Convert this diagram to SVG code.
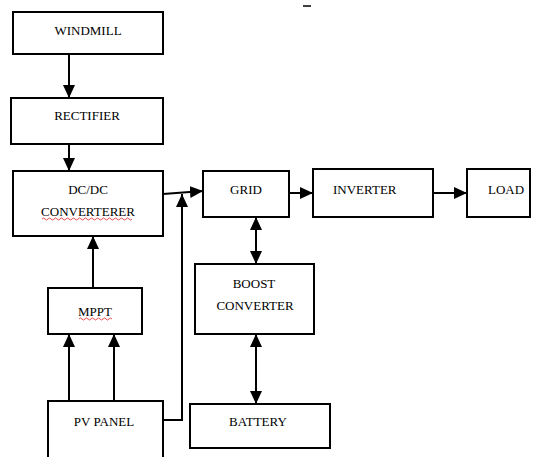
<svg xmlns="http://www.w3.org/2000/svg" width="535" height="457" viewBox="0 0 535 457">
<style>
.box{fill:#fff;stroke:#000;stroke-width:2}
.t{font-family:"Liberation Serif","Times New Roman",serif;font-size:13px;fill:#000}
.c{stroke:#000;stroke-width:2;fill:none}
.sq{stroke:#e02020;stroke-width:0.8;fill:none}
</style>
<defs>
<marker id="ah" markerUnits="userSpaceOnUse" markerWidth="13" markerHeight="12" refX="13" refY="6" orient="auto-start-reverse">
<path d="M0,0 L13,6 L0,12 z" fill="#000"/>
</marker>
</defs>
<rect width="535" height="457" fill="#fff"/>
<line x1="303" y1="6" x2="311" y2="6" stroke="#000" stroke-width="1.5"/>
<g id="connectors">
<line class="c" x1="69" y1="54" x2="69" y2="98" marker-end="url(#ah)"/>
<line class="c" x1="69" y1="144" x2="69" y2="171" marker-end="url(#ah)"/>
<line class="c" x1="93" y1="288" x2="93" y2="236" marker-end="url(#ah)"/>
<line class="c" x1="69" y1="401" x2="69" y2="334" marker-end="url(#ah)"/>
<line class="c" x1="114" y1="401" x2="114" y2="334" marker-end="url(#ah)"/>
<line class="c" x1="163" y1="194" x2="203" y2="191" marker-end="url(#ah)"/>
<polyline class="c" points="163,420 182,420 182,194" marker-end="url(#ah)"/>
<line class="c" x1="289" y1="193" x2="313" y2="193" marker-end="url(#ah)"/>
<line class="c" x1="433" y1="193" x2="467" y2="193" marker-end="url(#ah)"/>
<line class="c" x1="256" y1="217" x2="256" y2="264" marker-start="url(#ah)" marker-end="url(#ah)"/>
<line class="c" x1="256" y1="334" x2="256" y2="404" marker-start="url(#ah)" marker-end="url(#ah)"/>
</g>
<g id="windmill"><rect class="box" x="13" y="12" width="150" height="42"/><text class="t" x="88" y="35" text-anchor="middle">WINDMILL</text></g>
<g id="rectifier"><rect class="box" x="11" y="98" width="152" height="46"/><text class="t" x="87" y="120" text-anchor="middle">RECTIFIER</text></g>
<g id="dcdc"><rect class="box" x="13" y="171" width="150" height="65"/><text class="t" x="88" y="194" text-anchor="middle">DC/DC</text><text class="t" x="88" y="216" text-anchor="middle">CONVERTERER</text><path class="sq" d="M42,219 q1.5,-2 3,0 t3,0 t3,0 t3,0 t3,0 t3,0 t3,0 t3,0 t3,0 t3,0 t3,0 t3,0 t3,0 t3,0 t3,0 t3,0 t3,0 t3,0 t3,0 t3,0 t3,0 t3,0 t3,0 t3,0 t3,0 t3,0 t3,0 t3,0 t3,0 t3,0"/></g>
<g id="mppt"><rect class="box" x="48" y="288" width="94" height="46"/><text class="t" x="95" y="316" text-anchor="middle">MPPT</text><path class="sq" d="M79,319 q1.5,-2 3,0 t3,0 t3,0 t3,0 t3,0 t3,0 t3,0 t3,0 t3,0 t3,0 t3,0"/></g>
<g id="pvpanel"><rect class="box" x="48" y="401" width="115" height="70"/><text class="t" x="104" y="426" text-anchor="middle">PV PANEL</text></g>
<g id="grid"><rect class="box" x="203" y="171" width="86" height="46"/><text class="t" x="246" y="194" text-anchor="middle">GRID</text></g>
<g id="inverter"><rect class="box" x="313" y="169" width="120" height="48"/><text class="t" x="333" y="194">INVERTER</text></g>
<g id="load"><rect class="box" x="467" y="169" width="63" height="48"/><text class="t" x="488" y="194">LOAD</text></g>
<g id="boost"><rect class="box" x="195" y="264" width="119" height="70"/><text class="t" x="254" y="288" text-anchor="middle">BOOST</text><text class="t" x="255" y="310" text-anchor="middle">CONVERTER</text></g>
<g id="battery"><rect class="box" x="190" y="404" width="140" height="44"/><text class="t" x="258" y="426" text-anchor="middle">BATTERY</text></g>
</svg>
